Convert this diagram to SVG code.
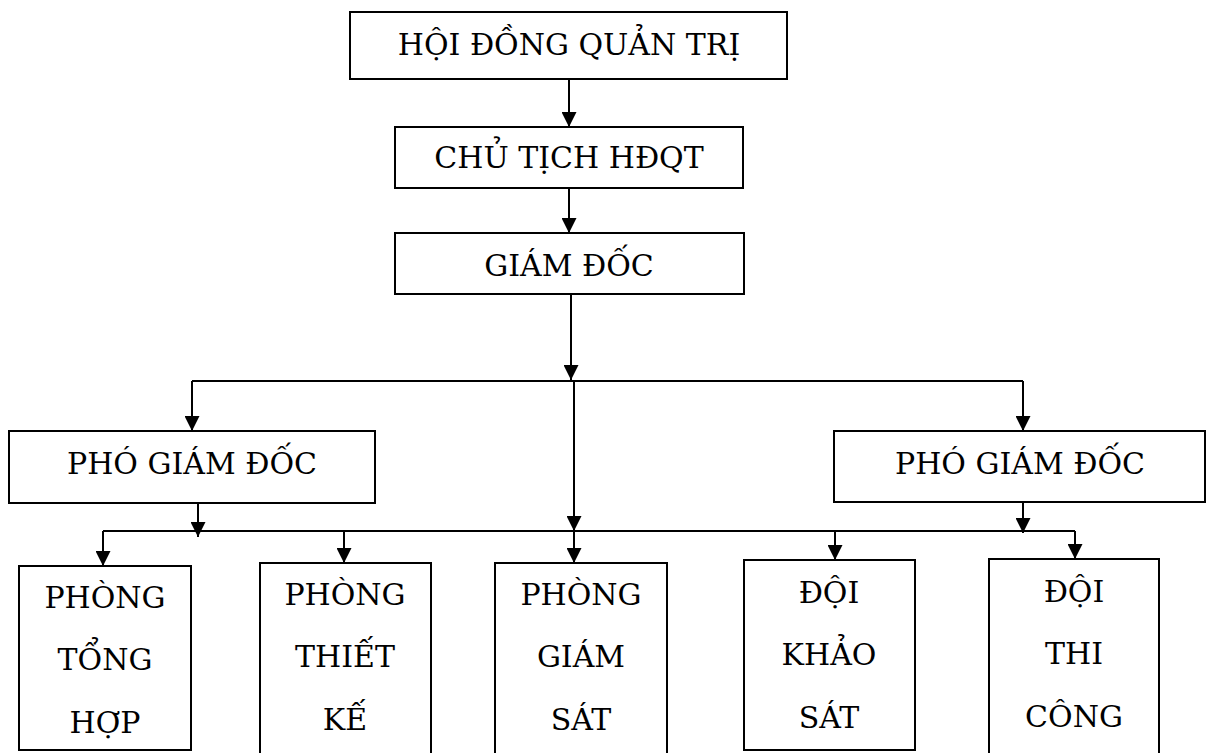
<svg xmlns="http://www.w3.org/2000/svg" width="1208" height="753" viewBox="0 0 1208 753">
  <defs>
    <marker id="arrow" markerWidth="15" markerHeight="15" refX="15" refY="7.5" orient="auto" markerUnits="userSpaceOnUse">
      <path d="M0,0 L15,7.5 L0,15 Z" fill="#000"/>
    </marker>
    <style>
      .box { fill: #fff; stroke: #000; stroke-width: 2; }
      text { font-family: 'DejaVu Serif', serif; font-size: 30px; fill: #000; text-anchor: middle; }
      .wire { fill: none; stroke: #000; stroke-width: 2; }
      .arr { fill: none; stroke: #000; stroke-width: 2; marker-end: url(#arrow); }
    </style>
  </defs>
  <rect width="1208" height="753" fill="#fff"/>

  <!-- connectors -->
  <g id="connectors">
    <line class="arr" x1="569" y1="79" x2="569" y2="127"/>
    <line class="arr" x1="569" y1="188" x2="569" y2="233"/>
    <line class="arr" x1="571" y1="294" x2="571" y2="380"/>
    <polyline class="wire" points="192,381 1023,381"/>
    <line class="arr" x1="192" y1="381" x2="192" y2="431"/>
    <line class="arr" x1="1023" y1="381" x2="1023" y2="431"/>
    <line class="arr" x1="574" y1="381" x2="574" y2="531"/>
    <polyline class="wire" points="103,531 1075,531"/>
    <line class="arr" x1="198" y1="503" x2="198" y2="537"/>
    <line class="arr" x1="1023" y1="502" x2="1023" y2="533"/>
    <line class="arr" x1="103" y1="531" x2="103" y2="566"/>
    <line class="arr" x1="344" y1="531" x2="344" y2="563"/>
    <line class="arr" x1="574" y1="531" x2="574" y2="563"/>
    <line class="arr" x1="835" y1="531" x2="835" y2="560"/>
    <line class="arr" x1="1075" y1="531" x2="1075" y2="559"/>
  </g>

  <g id="hoi-dong-quan-tri">
    <rect class="box" x="350" y="12" width="437" height="67"/>
    <text x="569" y="55">HỘI ĐỒNG QUẢN TRỊ</text>
  </g>
  <g id="chu-tich-hdqt">
    <rect class="box" x="395" y="127" width="348" height="61"/>
    <text x="569" y="168">CHỦ TỊCH HĐQT</text>
  </g>
  <g id="giam-doc">
    <rect class="box" x="395" y="233" width="349" height="61"/>
    <text x="569" y="276">GIÁM ĐỐC</text>
  </g>
  <g id="pho-giam-doc-1">
    <rect class="box" x="9" y="431" width="366" height="72"/>
    <text x="192" y="474">PHÓ GIÁM ĐỐC</text>
  </g>
  <g id="pho-giam-doc-2">
    <rect class="box" x="834" y="431" width="371" height="71"/>
    <text x="1020" y="474">PHÓ GIÁM ĐỐC</text>
  </g>
  <g id="phong-tong-hop">
    <rect class="box" x="19" y="566" width="172" height="184"/>
    <text x="105" y="608">PHÒNG</text>
    <text x="105" y="670">TỔNG</text>
    <text x="105" y="733">HỢP</text>
  </g>
  <g id="phong-thiet-ke">
    <rect class="box" x="260" y="563" width="171" height="200"/>
    <text x="345" y="605">PHÒNG</text>
    <text x="345" y="667">THIẾT</text>
    <text x="345" y="730">KẾ</text>
  </g>
  <g id="phong-giam-sat">
    <rect class="box" x="495" y="563" width="172" height="200"/>
    <text x="581" y="605">PHÒNG</text>
    <text x="581" y="667">GIÁM</text>
    <text x="581" y="730">SÁT</text>
  </g>
  <g id="doi-khao-sat">
    <rect class="box" x="744" y="560" width="171" height="190"/>
    <text x="829" y="603">ĐỘI</text>
    <text x="829" y="665">KHẢO</text>
    <text x="829" y="728">SÁT</text>
  </g>
  <g id="doi-thi-cong">
    <rect class="box" x="989" y="559" width="170" height="200"/>
    <text x="1074" y="602">ĐỘI</text>
    <text x="1074" y="664">THI</text>
    <text x="1074" y="727">CÔNG</text>
  </g>
</svg>
